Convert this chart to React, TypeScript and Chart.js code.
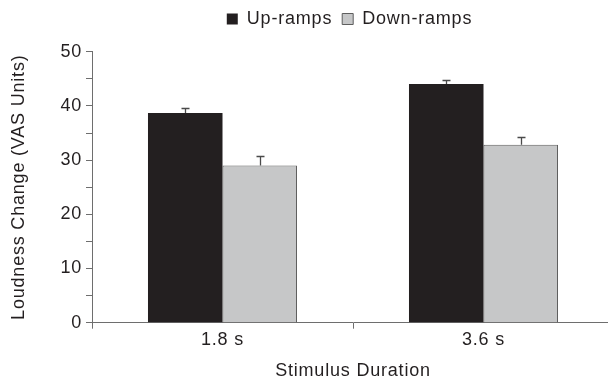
import React, { useEffect, useRef } from 'react';
import { Chart, registerables } from 'chart.js';

Chart.register(...registerables);

const categories = ['1.8 s', '3.6 s'];
const upRamps = [38.7, 44.05];
const downRamps = [29.0, 32.85];
const upErr = [0.85, 0.8];
const downErr = [1.7, 1.45];
const seriesNames = ['Up-ramps', 'Down-ramps'];
const xTitle = 'Stimulus Duration';
const yTitle = 'Loudness Change (VAS Units)';

const FONT = 'Liberation Sans, Arial, Helvetica, sans-serif';
const TEXT = '#231f20';
const AXIS = '#6e6e6e';
const LS = '0.8px';

const spacingPlugin = {
  id: 'letterSpacing',
  beforeUpdate(chart: any) {
    chart.ctx.letterSpacing = LS;
  },
  beforeDraw(chart: any) {
    chart.ctx.letterSpacing = LS;
  },
};

const errorBarPlugin = {
  id: 'errorBars',
  afterDatasetsDraw(chart: any) {
    const ctx = chart.ctx;
    const yScale = chart.scales.y;
    const errs = [upErr, downErr];
    chart.data.datasets.forEach((ds: any, di: number) => {
      const meta = chart.getDatasetMeta(di);
      meta.data.forEach((bar: any, i: number) => {
        const v = ds.data[i];
        const e = errs[di][i];
        const x = Math.round(bar.x) + 0.5;
        const yTop = Math.round(yScale.getPixelForValue(v + e)) + 0.5;
        const yBar = yScale.getPixelForValue(v);
        ctx.save();
        ctx.strokeStyle = '#4a4a4a';
        ctx.lineWidth = 1.3;
        ctx.beginPath();
        ctx.moveTo(x, yBar);
        ctx.lineTo(x, yTop);
        ctx.moveTo(x - 4, yTop);
        ctx.lineTo(x + 4, yTop);
        ctx.stroke();
        ctx.restore();
      });
    });
  },
};

export default function App() {
  const ref = useRef<HTMLCanvasElement | null>(null);

  useEffect(() => {
    if (!ref.current) return;
    const font = { family: FONT, size: 18 };
    const chart = new Chart(ref.current, {
      type: 'bar',
      data: {
        labels: categories,
        datasets: [
          {
            label: seriesNames[0],
            data: upRamps,
            backgroundColor: '#231f20',
            borderColor: '#231f20',
            borderWidth: 0,
            barPercentage: 1,
            categoryPercentage: 0.571,
          },
          {
            label: seriesNames[1],
            data: downRamps,
            backgroundColor: '#c6c7c8',
            borderColor: '#5e5e5e',
            borderWidth: 1,
            barPercentage: 1,
            categoryPercentage: 0.571,
          },
        ],
      },
      options: {
        animation: false,
        responsive: false,
        maintainAspectRatio: false,
        layout: { padding: { top: 0, left: 0, right: 0, bottom: 0 } },
        plugins: {
          legend: {
            display: true,
            position: 'top',
            align: 'center',
            labels: {
              boxWidth: 11,
              boxHeight: 11,
              padding: 10,
              color: TEXT,
              font,
            },
          },
          tooltip: { enabled: false },
        },
        scales: {
          x: {
            grid: {
              display: true,
              drawOnChartArea: false,
              drawTicks: true,
              tickLength: 6,
              color: AXIS,
              offset: true,
            },
            border: { display: true, color: AXIS, width: 1 },
            ticks: { color: TEXT, font, padding: 1 },
            title: {
              display: true,
              text: xTitle,
              color: TEXT,
              font,
              padding: { top: 0, bottom: 0 },
            },
            afterFit: (s: any) => {
              s.height = 59.3;
            },
          },
          xTop: {
            type: 'category',
            position: 'top',
            display: true,
            grid: { display: false },
            border: { display: false },
            ticks: { display: false },
            afterFit: (s: any) => {
              s.height = 13.7;
            },
          },
          y: {
            min: 0,
            max: 50,
            ticks: {
              stepSize: 5,
              color: TEXT,
              font,
              padding: 4,
              callback: (v: any) => (Number(v) % 10 === 0 ? String(v) : ''),
            },
            grid: {
              display: true,
              drawOnChartArea: false,
              drawTicks: true,
              tickLength: 6,
              color: AXIS,
            },
            border: { display: true, color: AXIS, width: 1 },
            title: {
              display: true,
              text: yTitle,
              color: TEXT,
              font,
              padding: { top: 8, bottom: 0 },
            },
            afterFit: (s: any) => {
              s.width = 92;
            },
          },
          yRight: {
            type: 'linear',
            position: 'right',
            display: true,
            grid: { display: false },
            border: { display: false },
            ticks: { display: false },
            afterFit: (s: any) => {
              s.width = 85;
            },
          },
        },
      } as any,
      plugins: [spacingPlugin, errorBarPlugin],
    });
    return () => chart.destroy();
  }, []);

  return (
    <div
      style={{
        position: 'fixed',
        left: 0,
        top: 0,
        width: 608,
        height: 382,
        overflow: 'hidden',
        background: '#ffffff',
      }}
    >
      <canvas ref={ref} width={699} height={382} style={{ display: 'block' }} />
    </div>
  );
}
